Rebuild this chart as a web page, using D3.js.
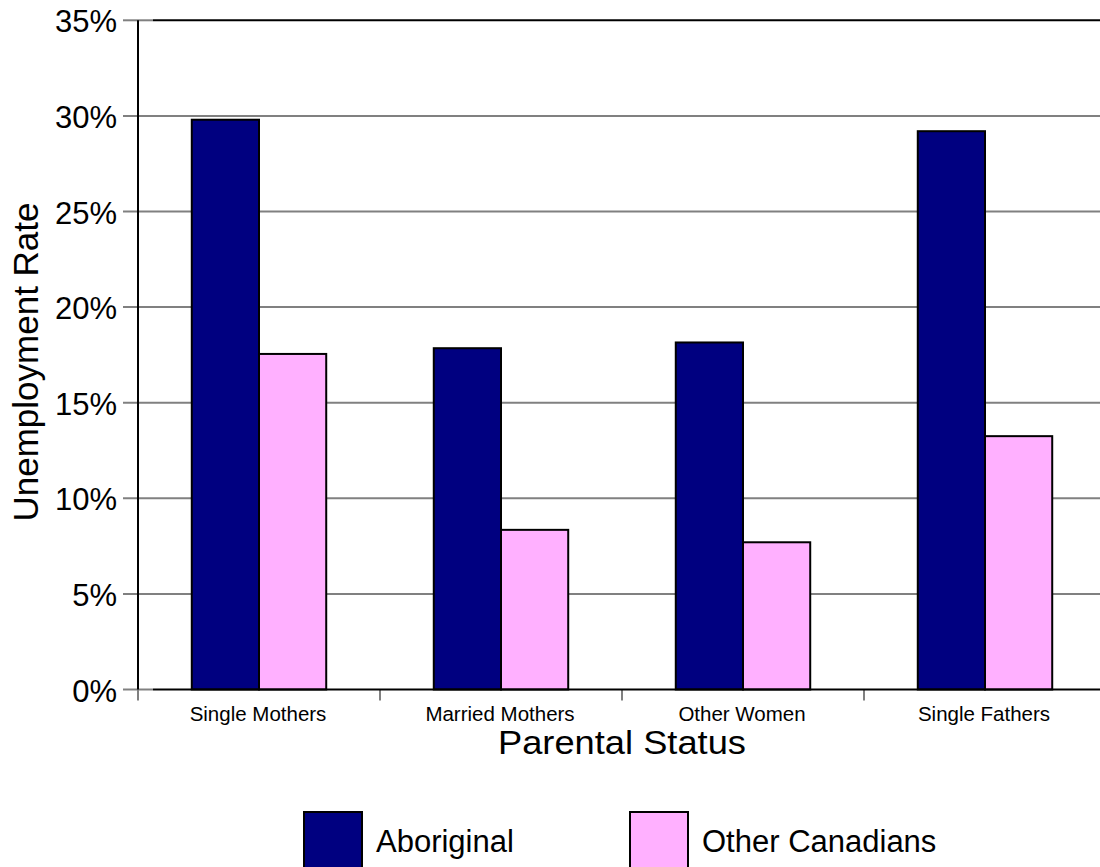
<!DOCTYPE html>
<html>
<head>
<meta charset="utf-8">
<script src="https://cdn.jsdelivr.net/npm/d3@7"></script>
<style>
html,body{margin:0;padding:0;background:#fff;}
svg{display:block;}
text{font-family:"Liberation Sans", Arial, sans-serif;fill:#000;}
</style>
</head>
<body>
<svg id="chart" width="1100" height="867"></svg>
<script>
const categories = ["Single Mothers", "Married Mothers", "Other Women", "Single Fathers"];
const seriesNames = ["Aboriginal", "Other Canadians"];
const aboriginal = [29.8, 17.85, 18.15, 29.2];
const otherCanadians = [17.55, 8.35, 7.7, 13.25];
const yTicks = [0, 5, 10, 15, 20, 25, 30, 35];
const colors = ["#000080", "#ffb0ff"];

(function () {
const svg = d3.select("#chart");
const pLeft = 138, pRight = 1106, pTop = 20.3, pBottom = 689.5;

const x = d3.scaleBand().domain(categories).range([pLeft, pRight]).paddingInner(0).paddingOuter(0);
const y = d3.scaleLinear().domain([0, 35]).range([pBottom, pTop]);
const inner = d3.scaleBand().domain(seriesNames).range([0, x.bandwidth()]).paddingOuter(0.8).paddingInner(0);

// gridlines
svg.append("g").selectAll("line").data(yTicks.filter(d => d > 0 && d < 35)).join("line")
  .attr("x1", pLeft - 15).attr("x2", 1100)
  .attr("y1", d => y(d)).attr("y2", d => y(d))
  .attr("stroke", "#808080").attr("stroke-width", 2);

// top border
svg.append("line").attr("x1", pLeft + 15).attr("x2", 1100).attr("y1", y(35)).attr("y2", y(35))
  .attr("stroke", "#000").attr("stroke-width", 2);

// bars
const data = categories.map((c, i) => ({cat: c, vals: [aboriginal[i], otherCanadians[i]]}));
const groups = svg.append("g").selectAll("g").data(data).join("g")
  .attr("transform", d => `translate(${x(d.cat)},0)`);
groups.selectAll("rect").data(d => d.vals.map((v, j) => ({name: seriesNames[j], v, j}))).join("rect")
  .attr("x", d => inner(d.name))
  .attr("width", inner.bandwidth())
  .attr("y", d => y(d.v))
  .attr("height", d => y(0) - y(d.v))
  .attr("fill", d => colors[d.j])
  .attr("stroke", "#000").attr("stroke-width", 2);

// x ticks at band boundaries
const bounds = categories.map(c => x(c));
svg.append("g").selectAll("line").data(bounds).join("line")
  .attr("x1", d => d).attr("x2", d => d)
  .attr("y1", pBottom).attr("y2", pBottom + 11)
  .attr("stroke", "#808080").attr("stroke-width", 2);

// axes lines
svg.append("line").attr("x1", pLeft + 15).attr("x2", 1100).attr("y1", pBottom).attr("y2", pBottom)
  .attr("stroke", "#000").attr("stroke-width", 2);
// left ticks for 0 and 35 (gray, spanning into the plot corner)
svg.append("g").selectAll("line").data([0, 35]).join("line")
  .attr("x1", pLeft - 15).attr("x2", pLeft + 15)
  .attr("y1", d => y(d)).attr("y2", d => y(d))
  .attr("stroke", "#808080").attr("stroke-width", 2);
svg.append("line").attr("x1", pLeft).attr("x2", pLeft).attr("y1", y(35)).attr("y2", pBottom)
  .attr("stroke", "#000").attr("stroke-width", 2);

// y tick labels
svg.append("g").selectAll("text").data(yTicks).join("text")
  .attr("x", 117).attr("y", d => y(d) + 12)
  .attr("text-anchor", "end").attr("font-size", 31)
  .text(d => d + "%");

// category labels
svg.append("g").selectAll("text").data(categories).join("text")
  .attr("x", d => x(d) + x.bandwidth() / 2 - 1).attr("y", 721)
  .attr("text-anchor", "middle").attr("font-size", 20.5)
  .text(d => d);

// axis titles
svg.append("text").attr("x", 622).attr("y", 754).attr("text-anchor", "middle")
  .attr("font-size", 34).attr("textLength", 248).attr("lengthAdjust", "spacingAndGlyphs")
  .text("Parental Status");
svg.append("text").attr("transform", "translate(38,362) rotate(-90)")
  .attr("text-anchor", "middle").attr("font-size", 35).text("Unemployment Rate");

// legend
const legendX = [304, 630];
const lg = svg.append("g").selectAll("g").data(seriesNames).join("g")
  .attr("transform", (d, i) => `translate(${legendX[i]},812)`);
lg.append("rect").attr("width", 58).attr("height", 56)
  .attr("fill", (d, i) => colors[i]).attr("stroke", "#000").attr("stroke-width", 2);
lg.append("text").attr("x", 72).attr("y", 39.5).attr("font-size", 31).text(d => d);
})();
</script>
</body>
</html>
